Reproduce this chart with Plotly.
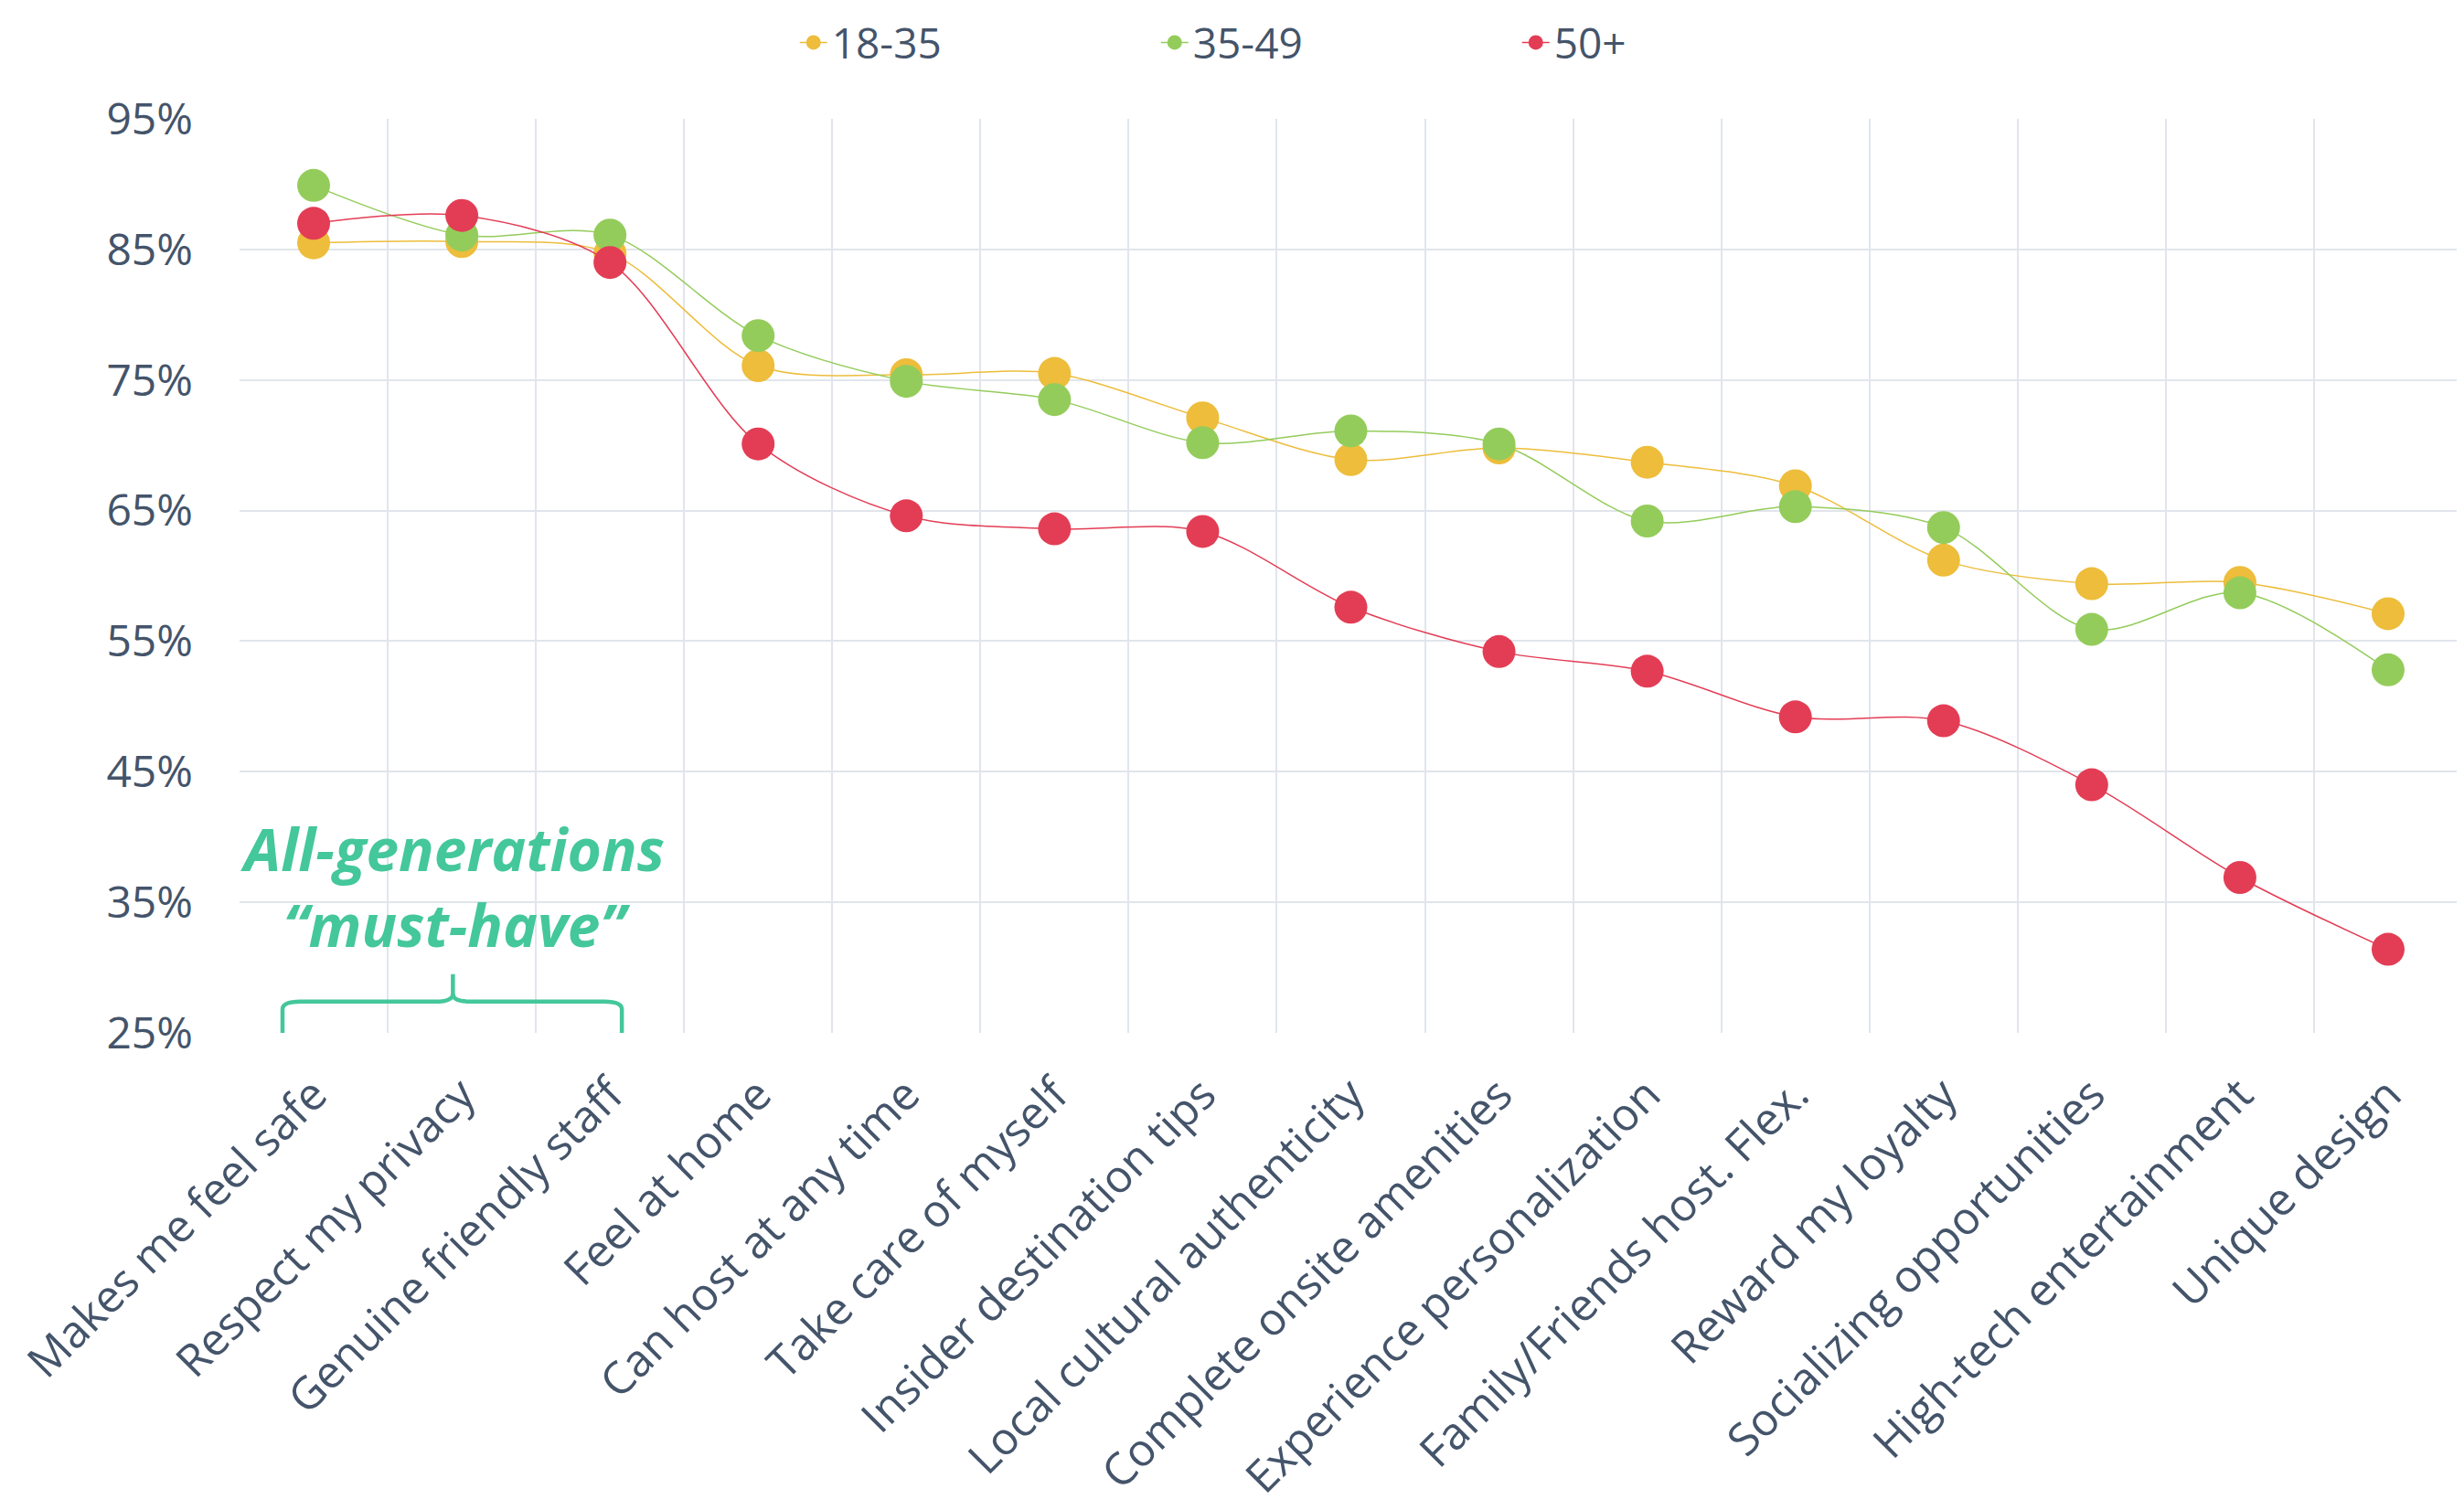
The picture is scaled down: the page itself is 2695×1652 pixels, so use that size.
import plotly.graph_objects as go

categories = [
    "Makes me feel safe", "Respect my privacy", "Genuine friendly staff", "Feel at home",
    "Can host at any time", "Take care of myself", "Insider destination tips",
    "Local cultural authenticity", "Complete onsite amenities", "Experience personalization",
    "Family/Friends host. Flex.", "Reward my loyalty", "Socializing opportunities",
    "High-tech entertainment", "Unique design",
]
series_names = ["18-35", "35-49", "50+"]
s_18_35 = [85.5, 85.6, 84.7, 76.1, 75.4, 75.5, 72.1, 68.9, 69.8, 68.7, 66.9, 61.2, 59.4, 59.5, 57.1]
s_35_49 = [89.9, 86.1, 86.1, 78.4, 74.9, 73.5, 70.2, 71.1, 70.1, 64.2, 65.3, 63.7, 55.9, 58.7, 52.8]
s_50p = [87.0, 87.6, 84.0, 70.1, 64.6, 63.6, 63.4, 57.6, 54.2, 52.7, 49.2, 48.9, 44.0, 36.9, 31.4]
colors = ["#EDBD3B", "#94CC5B", "#E33D55"]
y_ticks = [25, 35, 45, 55, 65, 75, 85, 95]
y_tick_labels = [f"{v}%" for v in y_ticks]

text_color = "#44546A"
grid_color = "#E1E5EC"
accent = "#44C79B"
font_family = "Open Sans, Segoe UI, sans-serif"

fig = go.Figure()
for name, vals, col in zip(series_names, [s_18_35, s_35_49, s_50p], colors):
    fig.add_trace(go.Scatter(
        x=categories, y=vals, name=name, mode="lines+markers",
        line=dict(color=col, width=1.5, shape="spline", smoothing=0.9),
        marker=dict(color=col, size=36),
    ))

n = len(categories)

def px(idx):
    return (idx + 0.5) / n

# brace annotation spanning first three categories
xl, xr, xc = px(-0.21), px(2.08), px(0.94)
dx = 0.008
yb, yh, yp = 25.0, 27.4, 29.5
path = (
    f"M {xl},{yb} L {xl},{yh-0.6} Q {xl},{yh} {xl+dx},{yh} "
    f"L {xc-dx},{yh} Q {xc},{yh} {xc},{yh+0.6} L {xc},{yp} "
    f"M {xc},{yh+0.6} Q {xc},{yh} {xc+dx},{yh} "
    f"L {xr-dx},{yh} Q {xr},{yh} {xr},{yh-0.6} L {xr},{yb}"
)
fig.add_shape(type="path", path=path, xref="paper", yref="y",
              line=dict(color=accent, width=4.5), layer="above")

fig.add_annotation(
    x=px(0.94), xref="paper", y=36.2, yref="y",
    text="<b><i>All-generations<br>\u201cmust-have\u201d</i></b>",
    showarrow=False, font=dict(family=font_family, size=64, color=accent),
    align="center", xanchor="center", yanchor="middle",
)

fig.update_layout(
    width=2695, height=1652,
    margin=dict(l=254, r=10, t=122, b=530, autoexpand=False),
    paper_bgcolor="white", plot_bgcolor="white",
    font=dict(family=font_family, color=text_color, size=48),
    showlegend=True,
    legend=dict(
        orientation="h", x=0.25, xanchor="left", y=1.12, yanchor="top",
        font=dict(size=46, color=text_color),
        entrywidth=350, entrywidthmode="pixels",
        itemsizing="trace",
    ),
    xaxis=dict(
        type="category", range=[-0.5, n - 0.5], tickson="boundaries",
        showgrid=True, gridcolor=grid_color, gridwidth=2,
        showline=False, zeroline=False, ticks="",
        tickangle=-45, tickfont=dict(size=49, color=text_color),
        ticklabelstandoff=28,
    ),
    yaxis=dict(
        range=[25, 95], tickvals=y_ticks, ticktext=y_tick_labels,
        showgrid=True, gridcolor=grid_color, gridwidth=2,
        showline=False, zeroline=False, ticks="",
        tickfont=dict(size=48, color=text_color),
        ticklabelstandoff=50,
    ),
)

fig.write_html("out.html")
